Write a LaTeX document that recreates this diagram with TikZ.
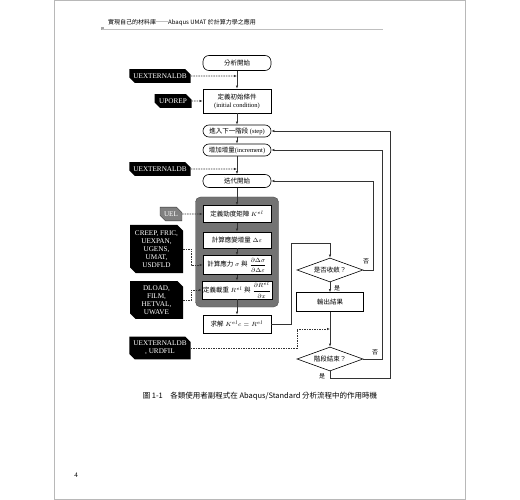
\documentclass[tikz,border=0pt]{standalone}
\usepackage{fontspec}
\usepackage{amsmath}
\setmainfont{Liberation Serif}
\newfontfamily\cjk{Noto Sans CJK TC}
\usetikzlibrary{arrows.meta,shapes.geometric,shapes.misc}
\begin{document}
\begin{tikzpicture}[x=1pt,y=-1pt,
    every node/.style={inner sep=1pt,align=center},
    box/.style={draw,line width=0.6pt,fill=white,minimum width=68pt,font=\fontsize{6.5}{8}\selectfont},
    rbox/.style={box,rounded corners=6pt},
    sub/.style={chamfered rectangle,chamfered rectangle corners={north east,south west},
        chamfered rectangle xsep=2.5pt,fill=black,text=white,inner sep=1.5pt,
        font=\fontsize{7.2}{8}\selectfont},
    ask/.style={diamond,draw,line width=0.6pt,fill=white,aspect=2.6,inner sep=0pt,minimum width=66pt,
        minimum height=24pt,font=\fontsize{6.5}{8}\selectfont},
    lbl/.style={font=\fontsize{6}{7}\selectfont\cjk},
    arr/.style={-{Latex[length=3pt,width=2.4pt]},line width=0.6pt,black!80},
    dsh/.style={arr,dash pattern=on 1.5pt off 1pt}]
    \useasboundingbox (0,0) rectangle (520,500);
    \draw[black!28,line width=0.8pt] (54,0.5) rectangle (465,499.5);
    \fill[black!35] (100.5,27) rectangle (103.5,30);
    \draw[black!25,line width=0.4pt] (102,29) -- (383,29);
    \node[anchor=west,font=\fontsize{6}{7}\selectfont\cjk] (hd) at (107,23) {實現自己的材料庫──Abaqus UMAT 於計算力學之應用};
    \node[rbox,minimum height=15pt] (b1) at (237,63) {\cjk 分析開始};
    \node[box,minimum height=24pt] (b2) at (237,101) {{\cjk 定義初始條件}\\(initial condition)};
    \node[rbox,minimum height=12pt] (b3) at (237,131) {{\cjk 進入下一階段} (step)};
    \node[rbox,minimum height=12pt] (b4) at (237,150) {{\cjk 增加增量}(increment)};
    \node[rbox,minimum height=13pt] (b5) at (237,181) {\cjk 迭代開始};
    \node[draw=black!70,fill=black!55,rounded corners=5pt,minimum width=83pt,minimum height=110pt] (g) at (237,252) {};
    \node[box,minimum height=17pt] (k1) at (237,214) {{\cjk 定義勁度矩陣} $K^{el}$};
    \node[box,minimum height=16pt] (k2) at (237,240) {{\cjk 計算應變增量} $\Delta\varepsilon$};
    \node[box,minimum height=19pt] (k3) at (237,265) {{\cjk 計算應力} $\sigma$ {\cjk 與} $\dfrac{\partial\Delta\sigma}{\partial\Delta\varepsilon}$};
    \node[box,minimum height=17pt] (k4) at (237,290) {{\cjk 定義載重} $R^{el}$ {\cjk 與} $\dfrac{\partial R^{el}}{\partial x}$};
    \node[box,minimum height=18pt] (b6) at (237,324) {{\cjk 求解} $K^{el}c=R^{el}$};
    \node[ask] (d1) at (330,270) {\cjk 是否收斂？};
    \node[box,minimum width=67pt,minimum height=19pt] (o1) at (330,302) {\cjk 輸出結果};
    \node[ask] (d2) at (330,359) {\cjk 階段結束？};
    \node[sub,minimum width=61pt,minimum height=13pt] (u1) at (160,76) {UEXTERNALDB};
    \node[sub,minimum width=37pt,minimum height=13pt] (u2) at (173,101) {UPOREP};
    \node[sub,minimum width=61pt,minimum height=13pt] (u3) at (160,169) {UEXTERNALDB};
    \node[sub,fill=black!50,draw=black!80,minimum width=20pt,minimum height=12pt] (u4) at (171,214) {UEL};
    \node[sub,minimum width=53pt,minimum height=48pt] (u5) at (156.5,249) {CREEP, FRIC,\\UEXPAN,\\UGENS,\\UMAT,\\USDFLD};
    \node[sub,minimum width=53pt,minimum height=35pt] (u6) at (156.5,300) {DLOAD,\\FILM,\\HETVAL,\\UWAVE};
    \node[sub,minimum width=60pt,minimum height=20pt] (u7) at (160,348) {UEXTERNALDB\\, URDFIL};
    \coordinate (m1) at (237,76);
    \coordinate (m2) at (237,169);
    \coordinate (m3) at (330,329);
    \draw[arr] (b1) -- (b2);
    \draw[arr] (b2) -- (b3);
    \draw[arr] (b3) -- (b4);
    \draw[arr] (b4) -- (b5);
    \draw[arr] (b5) -- (k1);
    \draw[arr] (k1) -- (k2);
    \draw[arr] (k2) -- (k3);
    \draw[arr] (k3) -- (k4);
    \draw[arr] (k4) -- (b6);
    \draw[dsh] (u1) -- (m1);
    \draw[dsh] (u2) -- (b2);
    \draw[dsh] (u3) -- (m2);
    \draw[dsh] (u4) -- (k1);
    \draw[dsh] (u5.east) -- ++(8,0) |- (k3);
    \draw[dsh] (u6.east) -- ++(8,0) |- (k4);
    \draw[dsh] (u7.east) -- (297,348) |- (m3);
    \draw[arr] (b6.east) -| (291,243) -| (d1.north);
    \draw[arr] (d1.east) -- (373,270) |- (b5);
    \draw[arr] (d1) -- (o1);
    \draw[arr] (o1) -- (d2);
    \draw[arr] (d2.east) -- (382,359) |- (b4);
    \draw[arr] (d2.south) |- (390,378) |- (b3);
    \node[lbl] (n1) at (366,261) {否};
    \node[lbl] (y1) at (337,288) {是};
    \node[lbl] (n2) at (375,352) {否};
    \node[lbl] (y2) at (322,376) {是};
    \node[font=\fontsize{7.5}{9}\selectfont\cjk] (cap) at (260,396) {圖 1-1\quad 各類使用者副程式在 Abaqus/Standard 分析流程中的作用時機};
    \node[font=\fontsize{7}{8}\selectfont] (pg) at (76,475) {4};
\end{tikzpicture}
\end{document}
